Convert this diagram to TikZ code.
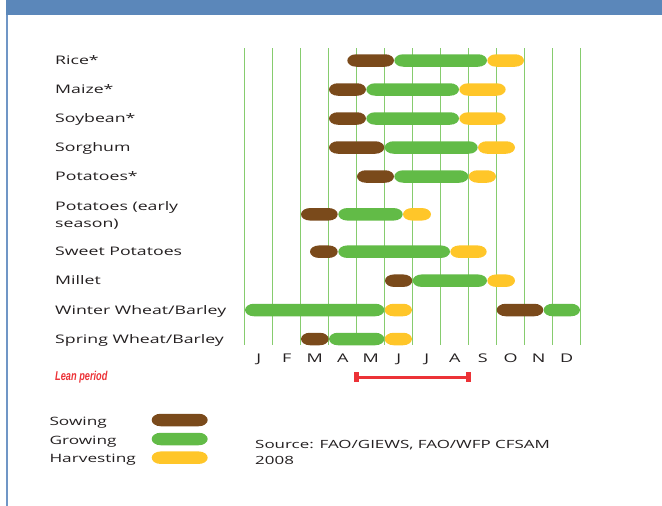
\documentclass[tikz,border=0pt]{standalone}
\usepackage{fontspec}
\setmainfont{Open Sans}[FakeStretch=1.5]
\newfontfamily\leanfont{Liberation Sans}[FakeStretch=0.72]
\definecolor{cSow}{HTML}{7A4A1B}
\definecolor{cGrow}{HTML}{62BB47}
\definecolor{cHarv}{HTML}{FFC629}
\definecolor{gridg}{HTML}{86CC6E}
\definecolor{hdr}{HTML}{5B87BA}
\definecolor{bord}{HTML}{7096C6}
\definecolor{txt}{HTML}{231F20}
\definecolor{leanred}{HTML}{EC3237}
\newcommand\capsule[4]{% colour, x1, x2, row y
  \fill[color=#1] ({#2+9},{-(#4)+6.25}) -- ({#3-9},{-(#4)+6.25})
    arc[start angle=90,end angle=-90,x radius=9pt,y radius=6.25pt]
    -- ({#2+9},{-(#4)-6.25})
    arc[start angle=270,end angle=90,x radius=9pt,y radius=6.25pt] -- cycle;}
\tikzset{
  lab/.style={anchor=base west, inner sep=0pt, text=txt, font=\fontsize{11.8}{16}\selectfont},
  keylab/.style={anchor=base west, inner sep=0pt, text=txt, font=\fontsize{11.5}{16}\selectfont},
  srclab/.style={anchor=base west, inner sep=0pt, text=txt, font=\fontsize{11.3}{16}\selectfont},
  mon/.style={anchor=base, inner sep=0pt, text=txt, font=\fontsize{12}{14}\selectfont},
  gridline/.style={draw=gridg, line width=1.3pt},
}
\begin{document}
\begin{tikzpicture}[x=1pt,y=1pt]
\useasboundingbox (0,0) rectangle (662,-506);
% header and border
\fill[hdr] (6,0) rectangle (662,-15);
\draw[bord, line width=2pt] (7,-15) -- (7,-506);
% grid
\foreach \i in {0,...,12}
  \draw[gridline] ({244.7+28*\i},-48) -- ({244.7+28*\i},-345);
% row labels
\node[lab] (l1) at (55,-64.5) {Rice*};
\node[lab] (l2) at (55,-93.5) {Maize*};
\node[lab] (l3) at (55,-122.5) {Soybean*};
\node[lab] (l4) at (55,-151.5) {Sorghum};
\node[lab] (l5) at (55,-180.5) {Potatoes*};
\node[lab] (l6) at (55,-210.5) {Potatoes (early};
\node[lab] (l6b) at (55,-227) {season)};
\node[lab] (l7) at (55,-255.7) {Sweet Potatoes};
\node[lab] (l8) at (55,-284.7) {Millet};
\node[lab] (l9) at (55,-314) {Winter Wheat/Barley};
\node[lab] (l10) at (55,-343) {Spring Wheat/Barley};
% bars
\capsule{cSow}{347.3}{394}{60.5}\capsule{cGrow}{394.3}{487}{60.5}\capsule{cHarv}{487.3}{524}{60.5}
\capsule{cSow}{329}{366}{89.5}\capsule{cGrow}{366.3}{459}{89.5}\capsule{cHarv}{459.3}{505.7}{89.5}
\capsule{cSow}{329}{366}{118.5}\capsule{cGrow}{366.3}{459}{118.5}\capsule{cHarv}{459.3}{505.7}{118.5}
\capsule{cSow}{329}{384.3}{147.5}\capsule{cGrow}{384.7}{477.7}{147.5}\capsule{cHarv}{478}{515}{147.5}
\capsule{cSow}{357}{394}{176.5}\capsule{cGrow}{394.3}{468.3}{176.5}\capsule{cHarv}{468.7}{496}{176.5}
\capsule{cSow}{301}{337.7}{214.3}\capsule{cGrow}{338.3}{402.7}{214.3}\capsule{cHarv}{403}{431}{214.3}
\capsule{cSow}{310}{337.7}{251.7}\capsule{cGrow}{338.3}{450}{251.7}\capsule{cHarv}{450.3}{486.7}{251.7}
\capsule{cSow}{385}{412.3}{280.7}\capsule{cGrow}{412.7}{487}{280.7}\capsule{cHarv}{487.3}{515}{280.7}
\capsule{cGrow}{245}{384.3}{310}\capsule{cHarv}{384.7}{412}{310}\capsule{cSow}{496.7}{543.3}{310}\capsule{cGrow}{543.6}{580}{310}
\capsule{cSow}{301}{328.7}{339}\capsule{cGrow}{329}{384.3}{339}\capsule{cHarv}{384.7}{412}{339}
% months
\foreach \m [count=\k from 0] in {J,F,M,A,M,J,J,A,S,O,N,D}
  \node[mon] (m\k) at ({258.7+28*\k},-362.5) {\m};
% lean period
\node[anchor=base west, inner sep=0pt, text=leanred, font=\fontsize{12.8}{14}\leanfont\bfseries\itshape] (lean) at (55,-380.5) {Lean period};
\coordinate (lpL) at (356.6,-377.2);
\coordinate (lpR) at (468.6,-377.2);
\draw[leanred, line width=3pt] (lpL) -- (lpR);
\fill[leanred] ([xshift=-2.6pt,yshift=5pt]lpL) rectangle ([xshift=2.6pt,yshift=-5pt]lpL);
\fill[leanred] ([xshift=-2.6pt,yshift=5pt]lpR) rectangle ([xshift=2.6pt,yshift=-5pt]lpR);
% legend
\node[keylab] (ks) at (49.3,-425) {Sowing};
\node[keylab] (kg) at (49.3,-444) {Growing};
\node[keylab] (kh) at (49.3,-462.7) {Harvesting};
\capsule{cSow}{151.7}{207.7}{420}
\capsule{cGrow}{151.7}{207.7}{439}
\capsule{cHarv}{151.7}{207.7}{457.7}
% source
\node[srclab] (src) at (255,-448.5) {Source: FAO/GIEWS, FAO/WFP CFSAM};
\node[srclab] (src2) at (255,-464) {2008};
\end{tikzpicture}
\end{document}
